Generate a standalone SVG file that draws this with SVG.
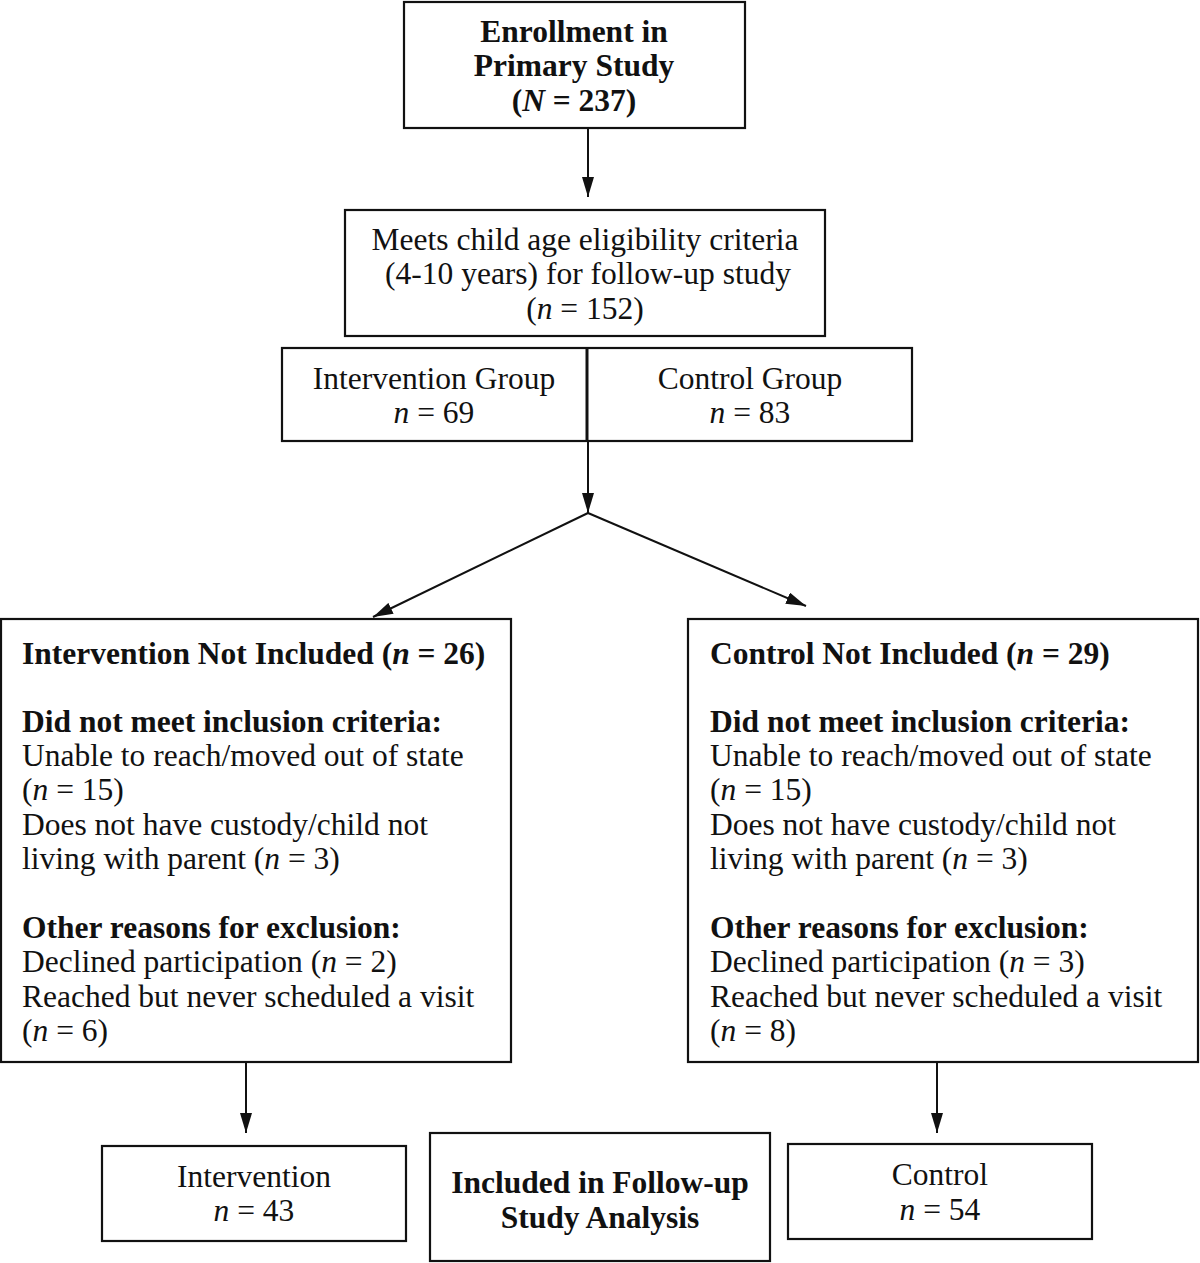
<svg xmlns="http://www.w3.org/2000/svg" width="1200" height="1263" viewBox="0 0 1200 1263">
<style>
.box{fill:#fff;stroke:#111;stroke-width:2.2}
.t{font-family:"Liberation Serif","Times New Roman",serif;font-size:31.5px;fill:#111}
.c{text-anchor:middle}
.b{font-weight:bold}
.i{font-style:italic}
.ln{stroke:#111;stroke-width:2;fill:none}
</style>
<defs>
<marker id="ah" viewBox="0 0 20 12" refX="20" refY="6" markerWidth="20" markerHeight="12" markerUnits="userSpaceOnUse" orient="auto">
<path d="M0,0 L20,6 L0,12 Z" fill="#111"/>
</marker>
</defs>
<rect width="1200" height="1263" fill="#fff"/>
<g id="connectors">
<line class="ln" x1="588" y1="128" x2="588" y2="197" marker-end="url(#ah)"/>
<line class="ln" x1="588" y1="441" x2="588" y2="513" marker-end="url(#ah)"/>
<line class="ln" x1="588" y1="513" x2="373" y2="617"  marker-end="url(#ah)"/>
<line class="ln" x1="588" y1="513" x2="806" y2="606" marker-end="url(#ah)"/>
<line class="ln" x1="246" y1="1062" x2="246" y2="1133" marker-end="url(#ah)"/>
<line class="ln" x1="937" y1="1062" x2="937" y2="1133" marker-end="url(#ah)"/>
</g>
<g id="enrollment">
<rect class="box" x="404" y="2" width="341" height="126"/>
<text class="t b c" x="574" y="42">Enrollment in</text>
<text class="t b c" x="574" y="76">Primary Study</text>
<text class="t b c" x="574" y="111">(<tspan class="i">N</tspan> = 237)</text>
</g>
<g id="eligibility">
<rect class="box" x="345" y="210" width="480" height="126"/>
<text class="t c" x="585" y="250">Meets child age eligibility criteria</text>
<text class="t c" x="588" y="284">(4-10 years) for follow-up study</text>
<text class="t c" x="585" y="319">(<tspan class="i">n</tspan> = 152)</text>
</g>
<g id="groups">
<rect class="box" x="282" y="348" width="630" height="93"/>
<line class="ln" x1="587" y1="348" x2="587" y2="441" style="stroke-width:3"/>
<text class="t c" x="434" y="389">Intervention Group</text>
<text class="t c" x="434" y="423"><tspan class="i">n</tspan> = 69</text>
<text class="t c" x="750" y="389">Control Group</text>
<text class="t c" x="750" y="423"><tspan class="i">n</tspan> = 83</text>
</g>
<g id="intervention-not-included">
<rect class="box" x="1" y="619" width="510" height="443"/>
<text class="t b" x="22" y="664">Intervention Not Included (<tspan class="i">n</tspan> = 26)</text>
<text class="t b" x="22" y="732">Did not meet inclusion criteria:</text>
<text class="t" x="22" y="766">Unable to reach/moved out of state</text>
<text class="t" x="22" y="800">(<tspan class="i">n</tspan> = 15)</text>
<text class="t" x="22" y="835">Does not have custody/child not</text>
<text class="t" x="22" y="869">living with parent (<tspan class="i">n</tspan> = 3)</text>
<text class="t b" x="22" y="938">Other reasons for exclusion:</text>
<text class="t" x="22" y="972">Declined participation (<tspan class="i">n</tspan> = 2)</text>
<text class="t" x="22" y="1007">Reached but never scheduled a visit</text>
<text class="t" x="22" y="1041">(<tspan class="i">n</tspan> = 6)</text>
</g>
<g id="control-not-included">
<rect class="box" x="688" y="619" width="510" height="443"/>
<text class="t b" x="710" y="664">Control Not Included (<tspan class="i">n</tspan> = 29)</text>
<text class="t b" x="710" y="732">Did not meet inclusion criteria:</text>
<text class="t" x="710" y="766">Unable to reach/moved out of state</text>
<text class="t" x="710" y="800">(<tspan class="i">n</tspan> = 15)</text>
<text class="t" x="710" y="835">Does not have custody/child not</text>
<text class="t" x="710" y="869">living with parent (<tspan class="i">n</tspan> = 3)</text>
<text class="t b" x="710" y="938">Other reasons for exclusion:</text>
<text class="t" x="710" y="972">Declined participation (<tspan class="i">n</tspan> = 3)</text>
<text class="t" x="710" y="1007">Reached but never scheduled a visit</text>
<text class="t" x="710" y="1041">(<tspan class="i">n</tspan> = 8)</text>
</g>
<g id="intervention-final">
<rect class="box" x="102" y="1146" width="304" height="95"/>
<text class="t c" x="254" y="1187">Intervention</text>
<text class="t c" x="254" y="1221"><tspan class="i">n</tspan> = 43</text>
</g>
<g id="included-label">
<rect class="box" x="430" y="1133" width="340" height="128"/>
<text class="t b c" x="600" y="1193">Included in Follow-up</text>
<text class="t b c" x="600" y="1228">Study Analysis</text>
</g>
<g id="control-final">
<rect class="box" x="788" y="1144" width="304" height="95"/>
<text class="t c" x="940" y="1185">Control</text>
<text class="t c" x="940" y="1220"><tspan class="i">n</tspan> = 54</text>
</g>
</svg>
